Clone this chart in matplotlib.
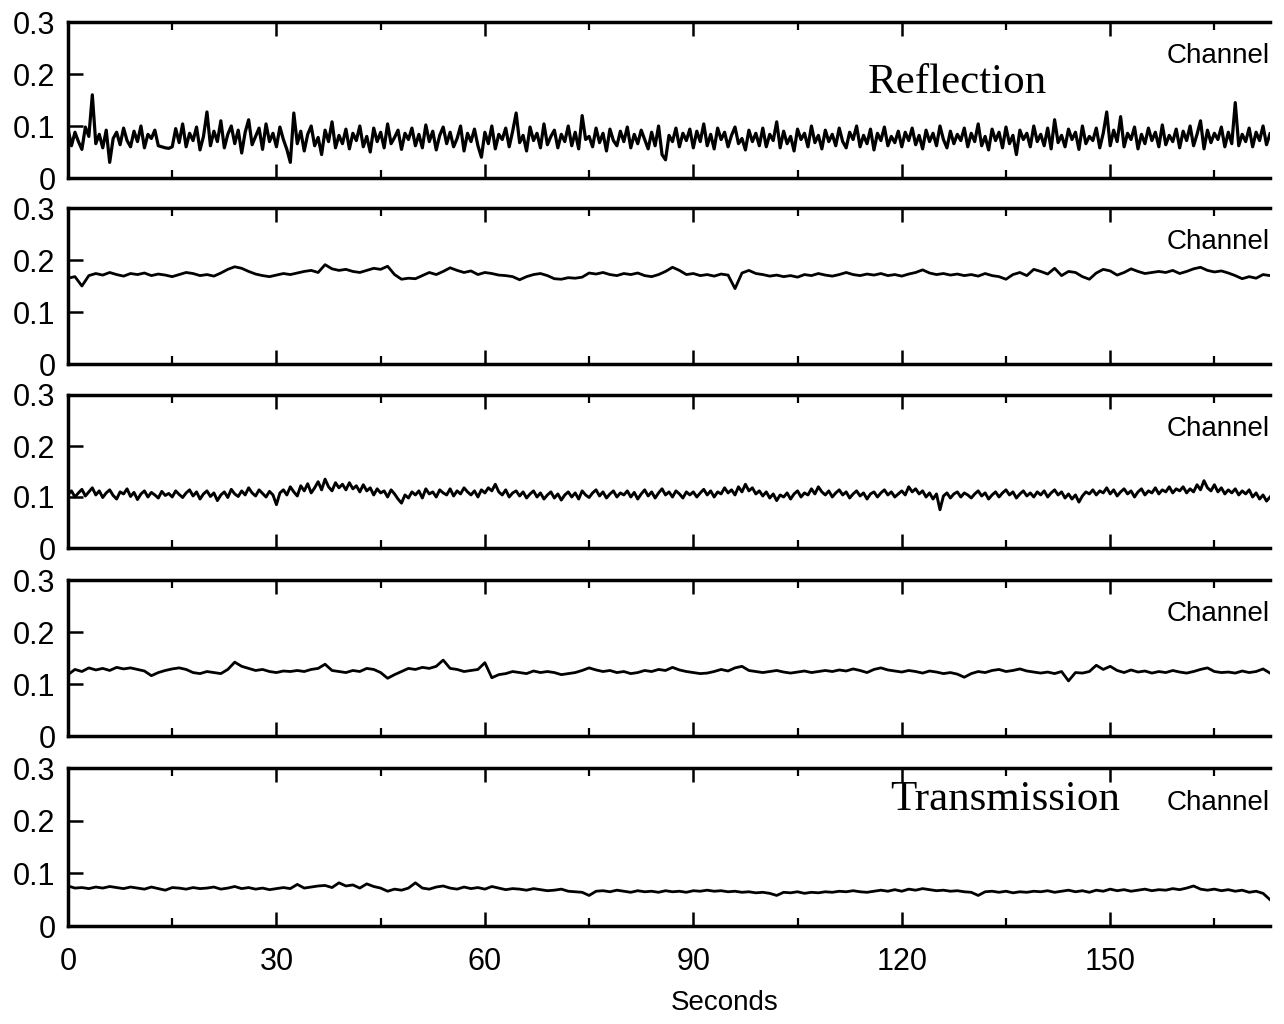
import numpy as np
import matplotlib.pyplot as plt
from matplotlib.ticker import MultipleLocator

plt.rcParams['font.family'] = ['Liberation Sans', 'DejaVu Sans']

# traces, values in units of 0.001
# channel 1 (reflection), one sample every 0.5 s
ch1 = [95, 62, 88, 70, 55, 98, 80, 160, 66, 84, 58, 92, 30, 76, 88, 64, 96, 72, 60, 90,
       70, 100, 58, 84, 76, 92, 62, 60, 58, 57, 60, 95, 68, 104, 60, 86, 72, 98, 54, 80,
       127, 62, 90, 70, 110, 58, 84, 100, 66, 92, 48, 88, 112, 64, 80, 96, 55, 104, 70, 86,
       60, 98, 74, 55, 30, 125, 66, 90, 52, 84, 100, 62, 78, 45, 92, 70, 108, 58, 82, 66,
       94, 56, 86, 72, 100, 60, 80, 50, 96, 70, 88, 58, 104, 66, 78, 92, 55, 86, 74, 96,
       62, 84, 58, 102, 70, 90, 54, 82, 98, 66, 88, 60, 76, 100, 52, 86, 70, 94, 62, 40,
       88, 66, 100, 56, 84, 74, 96, 60, 90, 125, 68, 82, 52, 98, 72, 86, 58, 104, 64, 80,
       92, 58, 84, 70, 100, 62, 88, 56, 120, 74, 80, 60, 96, 68, 86, 52, 94, 72, 62, 90,
       70, 98, 58, 84, 66, 92, 74, 56, 88, 62, 100, 45, 35, 82, 70, 96, 60, 86, 72, 94,
       58, 90, 70, 104, 62, 84, 56, 96, 74, 88, 60, 82, 98, 66, 76, 54, 92, 70, 86, 62,
       96, 60, 84, 72, 108, 58, 90, 66, 80, 52, 94, 74, 86, 60, 100, 68, 82, 56, 92, 70,
       84, 62, 96, 70, 58, 88, 74, 100, 60, 82, 66, 94, 54, 86, 72, 98, 62, 80, 68, 90,
       60, 88, 72, 96, 64, 82, 56, 92, 70, 86, 62, 100, 74, 58, 90, 66, 84, 72, 96, 60,
       86, 70, 104, 62, 80, 54, 94, 72, 88, 58, 98, 66, 82, 45, 92, 74, 86, 60, 100, 70,
       84, 62, 96, 56, 112, 68, 82, 60, 94, 74, 88, 55, 100, 66, 80, 72, 96, 58, 86, 127,
       62, 92, 70, 118, 60, 86, 74, 98, 56, 84, 66, 96, 72, 88, 60, 102, 64, 82, 70, 94,
       58, 90, 72, 100, 62, 84, 110, 56, 92, 68, 86, 74, 98, 60, 88, 66, 145, 62, 84, 70,
       96, 60, 88, 72, 100, 64, 85]

# channel 2, one sample per second
ch2 = [165, 168, 150, 170, 174, 171, 176, 172, 169, 174,
       172, 175, 170, 173, 171, 168, 172, 176, 174, 170,
       172, 169, 175, 182, 187, 184, 178, 173, 170, 168,
       171, 174, 172, 175, 178, 180, 176, 191, 183, 180,
       182, 178, 176, 180, 184, 182, 188, 172, 163, 165,
       164, 170, 176, 172, 178, 185, 180, 176, 179, 172,
       176, 174, 171, 170, 168, 162, 168, 172, 174, 170,
       164, 163, 166, 165, 167, 175, 173, 176, 172, 170,
       174, 172, 175, 170, 168, 172, 178, 186, 180, 172,
       174, 170, 172, 169, 173, 171, 145, 175, 180, 174,
       172, 169, 171, 168, 170, 167, 172, 170, 174, 171,
       169, 172, 176, 172, 170, 173, 171, 174, 170, 172,
       169, 173, 176, 181, 175, 172, 174, 171, 173, 170,
       172, 169, 174, 170, 168, 163, 172, 176, 170, 182,
       178, 173, 184, 170, 178, 176, 168, 163, 175, 182,
       179, 171, 176, 183, 178, 174, 176, 178, 176, 180,
       174, 178, 183, 186, 180, 177, 179, 175, 170, 164,
       168, 165, 172, 170]

# channel 3, one sample every 0.5 s
ch3 = [105, 112, 100, 108, 115, 102, 110, 118, 104, 112, 99, 108, 114, 103, 96, 110, 106, 116, 101, 109,
       95, 106, 112, 100, 109, 104, 98, 111, 103, 107, 100, 112, 105, 99, 108, 114, 102, 110, 96, 106,
       112, 101, 108, 93, 104, 110, 99, 115, 106, 101, 112, 104, 118, 108, 102, 114, 107, 100, 111, 104,
       85, 108, 114, 104, 120, 110, 102, 122, 112, 126, 108, 118, 130, 114, 135, 120, 112, 128, 118, 125,
       114, 128, 116, 122, 110, 124, 112, 118, 104, 116, 108, 112, 100, 114, 106, 96, 88, 104, 98, 110,
       104, 112, 98, 116, 106, 110, 100, 114, 108, 104, 116, 102, 112, 106, 118, 110, 104, 112, 100, 114,
       108, 118, 112, 125, 110, 104, 114, 100, 108, 112, 102, 110, 98, 106, 112, 100, 108, 96, 104, 110,
       98, 106, 94, 104, 110, 100, 108, 96, 112, 104, 99, 108, 114, 102, 110, 98, 106, 112, 100, 108,
       104, 112, 100, 109, 96, 106, 114, 102, 110, 98, 108, 116, 104, 110, 100, 112, 106, 98, 110, 104,
       110, 100, 108, 115, 104, 112, 100, 110, 106, 118, 108, 114, 104, 120, 110, 125, 112, 118, 106, 112,
       102, 110, 98, 106, 93, 104, 100, 108, 96, 106, 112, 100, 108, 104, 116, 106, 120, 110, 104, 112,
       100, 108, 114, 104, 110, 98, 106, 112, 102, 108, 96, 106, 110, 100, 108, 114, 104, 110, 100, 106,
       112, 104, 120, 110, 116, 106, 112, 100, 108, 96, 106, 75, 102, 108, 98, 106, 110, 100, 108, 104,
       98, 106, 112, 102, 108, 96, 104, 110, 100, 108, 114, 104, 110, 98, 106, 112, 102, 108, 100, 110,
       104, 112, 100, 108, 114, 104, 110, 98, 106, 96, 104, 90, 102, 110, 106, 114, 104, 112, 108, 118,
       106, 114, 102, 110, 116, 106, 112, 100, 110, 116, 104, 112, 108, 118, 106, 114, 110, 120, 108, 116,
       112, 120, 108, 116, 110, 124, 114, 132, 118, 112, 124, 110, 118, 106, 114, 108, 116, 104, 112, 106,
       114, 100, 108, 96, 104, 92, 100]

# channel 4, one sample per second
ch4 = [118, 128, 124, 131, 127, 130, 126, 132, 129, 131,
       128, 125, 116, 122, 126, 129, 131, 128, 122, 120,
       124, 122, 120, 128, 142, 134, 130, 126, 128, 124,
       122, 125, 124, 126, 124, 128, 130, 138, 126, 124,
       122, 126, 124, 130, 128, 122, 111, 118, 124, 130,
       128, 132, 130, 134, 146, 130, 128, 124, 126, 128,
       141, 112, 118, 120, 124, 122, 120, 125, 122, 124,
       122, 118, 120, 122, 126, 131, 127, 124, 126, 122,
       124, 120, 122, 126, 124, 128, 126, 132, 127, 124,
       122, 120, 121, 124, 128, 125, 131, 134, 126, 124,
       122, 124, 126, 123, 121, 123, 125, 122, 124, 126,
       124, 127, 125, 129, 126, 122, 128, 131, 127, 125,
       123, 126, 124, 121, 125, 123, 120, 122, 119, 113,
       120, 124, 122, 126, 128, 124, 126, 129, 125, 123,
       121, 123, 120, 124, 106, 122, 121, 124, 136, 128,
       134, 126, 122, 127, 123, 125, 121, 124, 122, 126,
       123, 121, 124, 128, 131, 124, 122, 123, 121, 125,
       122, 124, 129, 121]

# channel 5 (transmission), one sample per second
ch5 = [76, 72, 73, 71, 74, 72, 75, 73, 71, 74,
       72, 70, 74, 71, 68, 73, 72, 70, 73, 71,
       72, 74, 70, 72, 75, 71, 73, 70, 72, 69,
       71, 73, 71, 79, 72, 74, 76, 77, 73, 82,
       76, 78, 72, 80, 75, 72, 66, 70, 68, 72,
       82, 72, 70, 74, 76, 72, 70, 74, 71, 73,
       70, 75, 72, 69, 71, 70, 68, 71, 69, 67,
       68, 70, 66, 65, 64, 58, 66, 67, 65, 68,
       66, 64, 67, 65, 66, 64, 67, 65, 66, 64,
       67, 66, 68, 66, 67, 65, 66, 64, 65, 63,
       64, 62, 58, 64, 63, 65, 62, 64, 63, 65,
       64, 66, 65, 67, 65, 64, 66, 68, 66, 69,
       66, 70, 68, 71, 69, 67, 68, 66, 67, 65,
       64, 58, 65, 66, 64, 66, 63, 65, 64, 66,
       65, 67, 64, 66, 68, 65, 67, 64, 68, 66,
       70, 67, 69, 66, 68, 70, 67, 69, 68, 71,
       69, 72, 76, 70, 68, 70, 67, 69, 66, 68,
       64, 66, 62, 50]

traces = [ch1, ch2, ch3, ch4, ch5]
steps = [0.5, 1.0, 0.5, 1.0, 1.0]
widths = [2.3, 2.0, 2.1, 2.0, 2.0]
ytick_vals = [0, 0.1, 0.2, 0.3]
ytick_labels = ['0', '0.1', '0.2', '0.3']
xtick_vals = [0, 30, 60, 90, 120, 150]

fig = plt.figure(figsize=(12.84, 10.24), dpi=100)

# panel tops/bottoms in pixels of the original
tops = [22, 208, 395, 580, 768]
bots = [178, 364, 548, 736, 926]
W, H = 1284.0, 1024.0
left, right = 68, 1270

axes = []
for i, (tr, st) in enumerate(zip(traces, steps)):
    ax = fig.add_axes([left / W, 1 - bots[i] / H, (right - left) / W, (bots[i] - tops[i]) / H])
    t = np.arange(len(tr)) * st
    ax.plot(t, np.array(tr) / 1000.0, color='black', lw=widths[i])
    ax.set_xlim(0, 173)
    ax.set_ylim(0, 0.3)
    ax.set_yticks(ytick_vals)
    ax.set_yticklabels(ytick_labels)
    ax.set_xticks(xtick_vals)
    ax.xaxis.set_minor_locator(MultipleLocator(15))
    ax.tick_params(axis='x', which='major', direction='in', top=True, bottom=True,
                   length=10, width=1.8, labelsize=22, pad=15)
    ax.tick_params(axis='x', which='minor', direction='in', top=True, bottom=True,
                   length=6, width=1.6)
    ax.tick_params(axis='y', direction='in', left=True, right=False,
                   length=11, width=1.8, labelsize=22, pad=9)
    ax.spines['right'].set_visible(False)
    for s in ['left', 'top', 'bottom']:
        ax.spines[s].set_linewidth(2.5)
    if i < 4:
        ax.tick_params(axis='x', labelbottom=False)
    ax.text(1.0, 0.78, 'Channel', transform=ax.transAxes, ha='right', va='center',
            fontsize=20)
    axes.append(ax)

axes[0].text(0.6656, 0.609, 'Reflection', transform=axes[0].transAxes, ha='left',
             va='center', fontsize=31, family='Liberation Serif')
axes[4].text(0.684, 0.797, 'Transmission', transform=axes[4].transAxes, ha='left',
             va='center', fontsize=31, family='Liberation Serif')

fig.text(725 / W, 1 - 1003 / H, 'Seconds', ha='center', va='center', fontsize=20)

fig.savefig('out.png', dpi=100)
